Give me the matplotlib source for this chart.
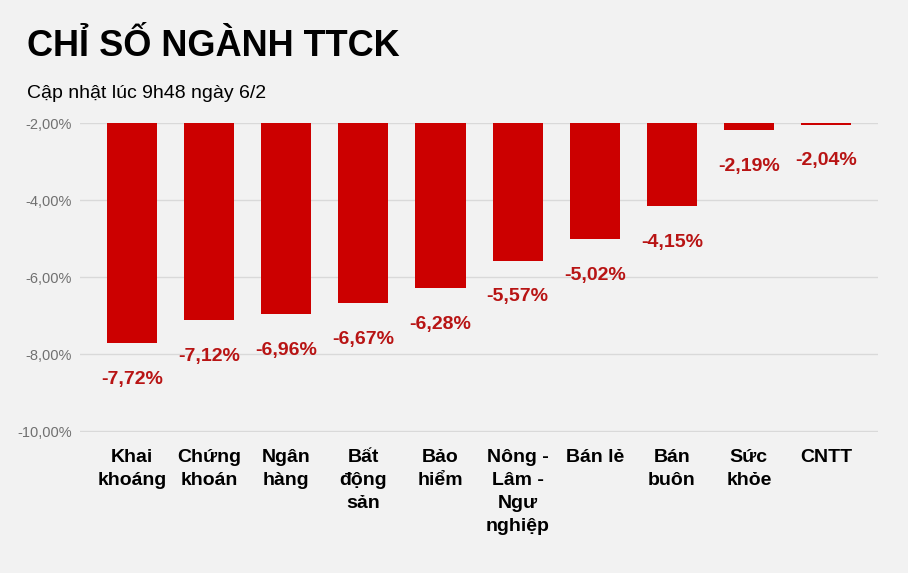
import matplotlib.pyplot as plt

# Data
categories = ['Khai\nkhoáng', 'Chứng\nkhoán', 'Ngân\nhàng', 'Bất\nđộng\nsản', 'Bảo\nhiểm',
              'Nông -\nLâm -\nNgư\nnghiệp', 'Bán lẻ', 'Bán\nbuôn', 'Sức\nkhỏe', 'CNTT']
values = [-7.72, -7.12, -6.96, -6.67, -6.28, -5.57, -5.02, -4.15, -2.19, -2.04]
yticks = [-2, -4, -6, -8, -10]

plt.rcParams['font.family'] = ['Liberation Sans', 'DejaVu Sans']

bg = '#f2f2f2'
fig = plt.figure(figsize=(9.08, 5.73), dpi=100, facecolor=bg)
ax = fig.add_axes([0.0881, 0.2461, 0.8789, 0.5392], facecolor=bg)

x = range(len(categories))
bars = ax.bar(x, values, width=0.65, color='#cc0000', zorder=3)

ax.set_ylim(-10.02, -2)
ax.set_xlim(-0.675, 9.675)
ax.set_yticks(yticks)
ax.set_yticklabels([f'{v:.2f}%'.replace('.', ',') for v in yticks],
                   fontsize=10.5, color='#707070')
ax.set_xticks(list(x))
ax.set_xticklabels(categories, fontsize=14, fontweight='bold', color='black',
                   linespacing=1.48)
ax.tick_params(axis='both', length=0)
ax.tick_params(axis='x', pad=12)
ax.tick_params(axis='y', pad=6)
ax.grid(axis='y', color='#d9d9d9', linewidth=1, zorder=0)
for s in ax.spines.values():
    s.set_visible(False)

# value labels under each bar
for xi, v in zip(x, values):
    ax.annotate(f'{v:.2f}%'.replace('.', ','), xy=(xi, v), xytext=(0, -20),
                textcoords='offset points', ha='center', va='top',
                fontsize=14, fontweight='bold', color='#b81414')

fig.text(27 / 908, 1 - 47 / 573, 'CHỈ SỐ NGÀNH TTCK', fontsize=26,
         fontweight='bold', va='center', ha='left')
fig.text(27 / 908, 1 - 93 / 573, 'Cập nhật lúc 9h48 ngày 6/2', fontsize=14,
         va='center', ha='left')

fig.savefig('out.png', dpi=100, facecolor=bg)
